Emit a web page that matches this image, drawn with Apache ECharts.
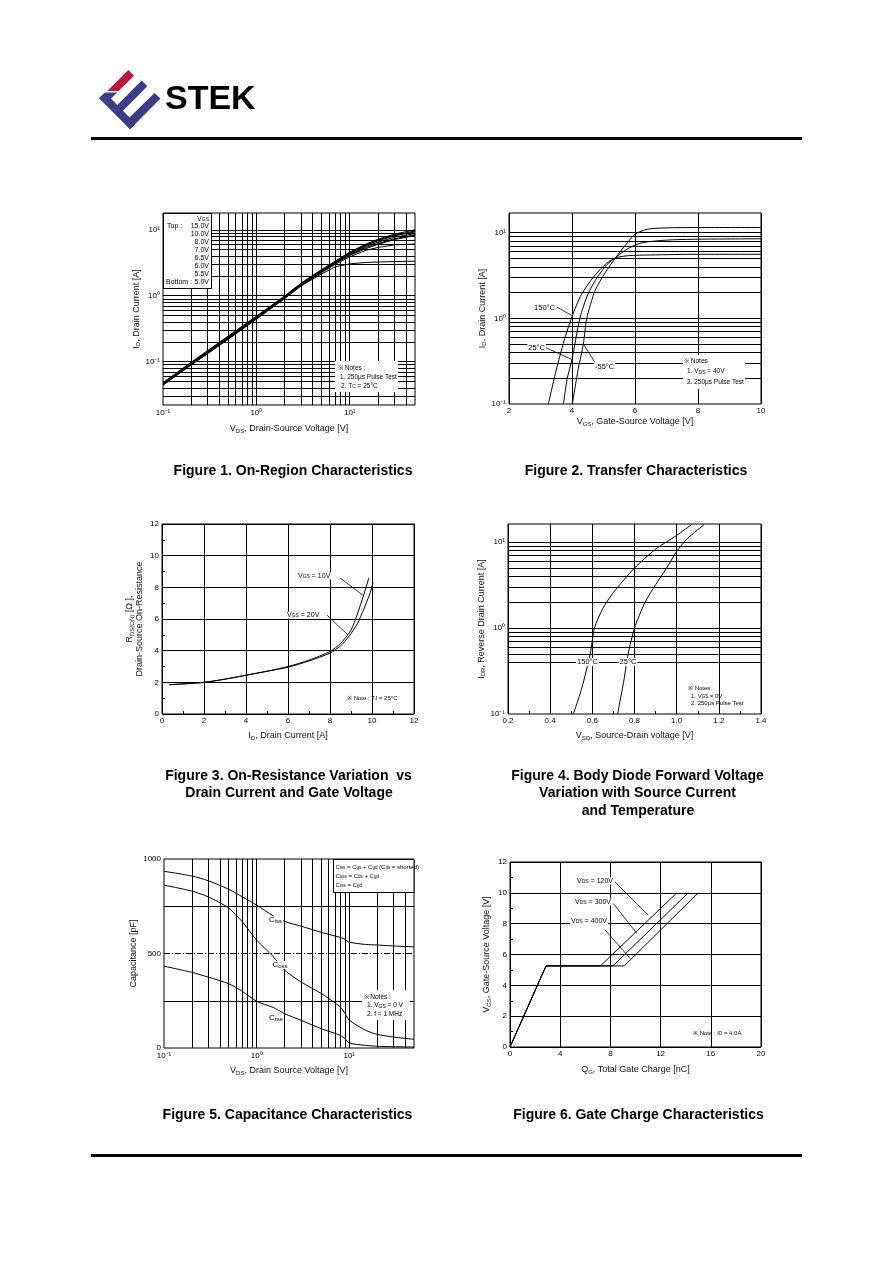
<!DOCTYPE html>
<html>
<head>
<meta charset="utf-8">
<script src="https://cdn.jsdelivr.net/npm/echarts@6/dist/echarts.min.js"></script>
<style>
  html, body { margin: 0; padding: 0; background: #fff; }
  #page { width: 892px; height: 1263px; }
</style>
</head>
<body>
<div id="page"></div>
<script>
// ---- Figure 1: on-region characteristics (log-log)
const fig1Vds = [0.1, 0.2, 0.3, 0.5, 1, 2, 3, 5, 7, 10, 15, 20, 30, 50]
const fig1Vgs = ['15.0V', '10.0V', '8.0V', '7.0V', '6.5V', '6.0V', '5.5V', '5.0V']
const fig1Id = [
  [0.048, 0.098, 0.147, 0.245, 0.49, 0.99, 1.55, 2.5, 3.35, 4.6, 6.1, 7.2, 8.6, 10.0],
  [0.047, 0.096, 0.144, 0.24, 0.48, 0.97, 1.52, 2.45, 3.3, 4.5, 5.9, 7.0, 8.3, 9.6],
  [0.046, 0.094, 0.141, 0.235, 0.47, 0.95, 1.5, 2.4, 3.25, 4.4, 5.8, 6.8, 8.1, 9.3],
  [0.046, 0.093, 0.139, 0.232, 0.465, 0.94, 1.48, 2.37, 3.2, 4.3, 5.6, 6.5, 7.7, 8.8],
  [0.045, 0.092, 0.137, 0.228, 0.46, 0.93, 1.46, 2.33, 3.15, 4.2, 5.4, 6.2, 7.3, 8.4],
  [0.045, 0.091, 0.135, 0.225, 0.455, 0.92, 1.44, 2.3, 3.1, 4.1, 5.2, 6.0, 7.1, 8.2],
  [0.044, 0.09, 0.134, 0.222, 0.45, 0.91, 1.42, 2.25, 3.0, 3.9, 4.9, 5.4, 5.9, 6.1],
  [0.044, 0.089, 0.132, 0.218, 0.44, 0.9, 1.4, 2.15, 2.75, 3.05, 3.2, 3.25, 3.3, 3.35]
]

// ---- Figure 2: transfer characteristics, [Vgs, Id]
const fig2T150 = [[3.25, 0.1], [3.5, 0.25], [3.75, 0.55], [4.0, 1.05], [4.3, 1.9], [4.7, 3.1], [5.1, 4.4], [5.4, 5.1], [5.8, 5.4], [6.5, 5.5], [8, 5.6], [10, 5.6]]
const fig2T25 = [[3.73, 0.1], [3.85, 0.2], [4.0, 0.33], [4.25, 1.0], [4.5, 1.9], [4.8, 3.0], [5.1, 4.2], [5.4, 5.2], [5.8, 6.6], [6.2, 7.6], [7, 8.2], [8, 8.4], [10, 8.5]]
const fig2Tm55 = [[4.01, 0.1], [4.2, 0.26], [4.36, 0.5], [4.47, 1.0], [4.73, 2.1], [5.05, 3.4], [5.4, 5.2], [5.7, 7.2], [6.0, 9.6], [6.4, 11.0], [7, 11.4], [8, 11.5], [10, 11.5]]
const fig2Arrows = [[[3.51, 1.36], [4.0, 1.08]], [[3.14, 0.46], [4.0, 0.33]], [[4.73, 0.305], [4.36, 0.5]]]

// ---- Figure 3: on-resistance vs drain current
const fig3Id10 = [0.35, 1, 2, 3, 4, 5, 6, 7, 8, 8.5, 9, 9.3, 9.6, 9.85]
const fig3R10 = [1.85, 1.9, 2.0, 2.2, 2.45, 2.7, 3.0, 3.4, 3.95, 4.45, 5.3, 6.3, 7.5, 8.6]
const fig3Id20 = [0.35, 1, 2, 3, 4, 5, 6, 7, 8, 8.5, 8.9, 9.3, 9.6, 9.9, 10.05]
const fig3R20 = [1.85, 1.9, 2.0, 2.2, 2.45, 2.7, 2.95, 3.35, 3.85, 4.3, 4.9, 5.7, 6.6, 7.6, 8.3]
const fig3Arrows = [[[8.47, 8.6], [9.57, 7.5]], [[7.85, 6.25], [8.85, 5.0]]]

// ---- Figure 4: body diode forward voltage
const fig4V150 = [0.51, 0.55, 0.59, 0.61, 0.65, 0.7, 0.8, 0.9, 1.0, 1.07]
const fig4I150 = [0.1, 0.2, 0.5, 1.0, 1.7, 2.6, 5.0, 8.3, 12, 16]
const fig4V25 = [0.72, 0.75, 0.77, 0.8, 0.85, 0.9, 0.95, 1.0, 1.05, 1.13]
const fig4I25 = [0.1, 0.25, 0.5, 1.0, 2.0, 3.2, 4.9, 7.8, 11, 16]

// ---- Figure 5: capacitance
const fig5Vds = [0.1, 0.2, 0.3, 0.5, 0.7, 1, 1.5, 2, 3, 5, 8, 9, 10, 15, 20, 30, 50]
const fig5Ciss = [935, 910, 885, 840, 800, 756, 700, 670, 645, 612, 585, 575, 560, 548, 545, 540, 535]
const fig5Coss = [862, 830, 800, 740, 668, 571, 485, 412, 350, 288, 217, 182, 147, 94, 72, 58, 46]
const fig5Crss = [433, 400, 375, 340, 300, 247, 215, 182, 147, 102, 67, 49, 26, 14, 9, 7, 5]

// ---- Figure 6: gate charge
const fig6Vgs = [0, 5.26, 5.26, 10]
const fig6Qg120 = [0, 2.87, 7.2, 13.3]
const fig6Qg300 = [0, 2.87, 8.2, 14.2]
const fig6Qg400 = [0, 2.87, 9.1, 15.0]
const fig6Arrows = [[[8.37, 10.7], [11.0, 8.55]], [[8.23, 9.31], [10.1, 7.37]], [[7.57, 7.6], [9.56, 5.75]]]

const FONT = "'Liberation Sans', Arial, Helvetica, sans-serif"
const SUP = { '-': '\u207b', '0': '\u2070', '1': '\u00b9', '2': '\u00b2', '3': '\u00b3' }

function powLabel(v) {
  const e = Math.log10(v)
  const r = Math.round(e)
  if (Math.abs(e - r) > 1e-6) return ''
  return '10' + String(r).split('').map((c) => SUP[c]).join('')
}

// decade + 2..9 positions inside (lo, hi)
function logGrid(lo, hi) {
  const out = []
  for (let e = -3; e <= 3; e++) {
    for (let d = 1; d <= 9; d++) {
      const v = +(d * Math.pow(10, e)).toPrecision(3)
      if (v > lo * 1.001 && v < hi * 0.999) out.push(v)
    }
  }
  return out
}

function zip(xs, ys) {
  return xs.map((x, i) => [x, ys[i]])
}

function curve(i, data, smooth) {
  return {
    type: 'line',
    xAxisIndex: i,
    yAxisIndex: i,
    data: data,
    symbol: 'none',
    showSymbol: false,
    smooth: smooth === undefined ? 0.25 : smooth,
    silent: true,
    z: 3,
    lineStyle: { color: '#000', width: 1 }
  }
}

function gridLines(i, xs, ys, type) {
  return {
    type: 'line',
    xAxisIndex: i,
    yAxisIndex: i,
    data: [],
    silent: true,
    z: 1,
    markLine: {
      silent: true,
      animation: false,
      symbol: ['none', 'none'],
      label: { show: false },
      emphasis: { disabled: true },
      lineStyle: { color: '#000', width: 1, type: type || 'solid' },
      data: xs.map((v) => ({ xAxis: v })).concat(ys.map((v) => ({ yAxis: v })))
    }
  }
}

function arrows(i, list) {
  return {
    type: 'line',
    xAxisIndex: i,
    yAxisIndex: i,
    data: [],
    silent: true,
    z: 4,
    markLine: {
      silent: true,
      animation: false,
      symbol: ['none', 'arrow'],
      symbolSize: [0, 6],
      label: { show: false },
      emphasis: { disabled: true },
      lineStyle: { color: '#000', width: 0.8, type: 'solid' },
      data: list.map((a) => [{ coord: a[0] }, { coord: a[1] }])
    }
  }
}

const nameStyle = {
  fontSize: 9,
  fontFamily: FONT,
  color: '#111',
  lineHeight: 10,
  rich: { s: { fontSize: 6, fontFamily: FONT, color: '#111', verticalAlign: 'bottom' } }
}

function axis(i, opt) {
  const label = { fontSize: 8, fontFamily: FONT, color: '#000', margin: 3 }
  const out = Object.assign({
    gridIndex: i,
    nameLocation: 'middle',
    nameTextStyle: nameStyle,
    axisLine: { show: false },
    axisTick: { show: false },
    splitLine: { show: false }
  }, opt)
  out.axisLabel = Object.assign(label, opt.axisLabel || {})
  return out
}

const solidSplit = { show: true, lineStyle: { color: '#000', width: 1 } }
const minorT = { show: true, splitNumber: 2, length: 3, lineStyle: { color: '#000', width: 1 } }
const insideT = { show: true, inside: true, length: 3, lineStyle: { color: '#000' } }

function T(x, y, text, o) {
  o = o || {}
  const size = o.size || 6.5
  const style = {
    text: text,
    fill: '#000',
    fontSize: size,
    fontFamily: FONT,
    fontWeight: o.weight || 'normal',
    textAlign: o.align || 'left',
    textVerticalAlign: 'middle',
    rich: { s: { fontSize: Math.max(4.5, Math.round(size * 0.7)), fontFamily: FONT, fill: '#000', verticalAlign: 'bottom' } }
  }
  if (o.bg) {
    style.backgroundColor = '#fff'
    style.padding = [0, 1]
  }
  return { type: 'text', x: x, y: y, z: 60, silent: true, style: style }
}

function R(x, y, w, h, stroke) {
  return {
    type: 'rect', z: 55, silent: true,
    shape: { x: x, y: y, width: w, height: h },
    style: { fill: '#fff', stroke: stroke ? '#000' : null, lineWidth: 1 }
  }
}

const BLUE = '#3b3d86'
const RED = '#c0143c'
const capt = { align: 'center', size: 14, weight: 'bold' }

const graphics = [
  // logo
  { type: 'polygon', shape: { points: [[107.3, 91], [118.7, 91], [134, 75.7], [128.3, 70]] }, style: { fill: RED } },
  { type: 'polygon', shape: { points: [[99, 98.3], [105.8, 92.5], [117.2, 92.5], [105.7, 104]] }, style: { fill: BLUE } },
  { type: 'polygon', shape: { points: [[99, 98.3], [130, 129.3], [135.5, 123.5], [105, 92.5]] }, style: { fill: BLUE } },
  { type: 'polygon', shape: { points: [[112, 110.3], [117.7, 116], [147.4, 86.3], [141.7, 80.6]] }, style: { fill: BLUE } },
  { type: 'polygon', shape: { points: [[124.3, 122.6], [130, 129.3], [160.5, 98.6], [154.5, 92.9]] }, style: { fill: BLUE } },
  T(165, 100, 'STEK', { size: 34, weight: 'bold' }),
  { type: 'rect', shape: { x: 91, y: 137, width: 711, height: 3 }, style: { fill: '#000' } },
  { type: 'rect', shape: { x: 91, y: 1154, width: 711, height: 3 }, style: { fill: '#000' } },

  // figure 1 legend + notes
  R(163.5, 213.5, 48, 75, true),
  T(209, 219, 'V{s|GS}', { align: 'right', size: 7 }),
  T(167, 226, 'Top :', { size: 7 }),
  T(166, 282, 'Bottom :', { size: 7 })
].concat(fig1Vgs.map((v, i) => T(209, 226 + i * 8, v, { align: 'right', size: 7 }))).concat([
  R(335, 361, 63, 31),
  T(338, 368, '\u203b Notes :'),
  T(340, 377, '1. 250\u03bcs Pulse Test'),
  T(341, 386, '2. T{s|C} = 25\u00b0C'),

  // figure 2
  R(683, 355, 62, 34),
  T(684, 361, '\u203b Notes'),
  T(687, 371.5, '1. V{s|DS} = 40V'),
  T(687, 382, '2. 250\u03bcs Pulse Test'),
  T(556, 308, '150\u00b0C', { align: 'right', size: 7.5, bg: true }),
  T(546, 348, '25\u00b0C', { align: 'right', size: 7.5, bg: true }),
  T(594, 367, '-55\u00b0C', { size: 7.5, bg: true }),

  // figure 3
  T(297, 576, 'V{s|GS} = 10V', { size: 7, bg: true }),
  T(286, 615, 'V{s|GS} = 20V', { size: 7, bg: true }),
  T(347, 698, '\u203b Note : T{s|J} = 25\u00b0C', { size: 6 }),

  // figure 4
  T(587.5, 662, '150\u00b0C', { align: 'center', size: 7.5, bg: true }),
  T(628, 662, '25\u00b0C', { align: 'center', size: 7.5, bg: true }),
  T(688, 688, '\u203b Notes:', { size: 6 }),
  T(691, 696, '1. V{s|GS} = 0V', { size: 6 }),
  T(691, 703.5, '2. 250\u03bcs Pulse Test', { size: 6 }),

  // figure 5
  R(333.5, 859.5, 80.5, 33, true),
  T(335.5, 867, 'C{s|iss} = C{s|gs} + C{s|gd} (C{s|ds} = shorted)', { size: 6 }),
  T(335.5, 876.5, 'C{s|oss} = C{s|ds} + C{s|gd}', { size: 6 }),
  T(335.5, 885.5, 'C{s|rss} = C{s|gd}', { size: 6 }),
  T(268, 920, 'C{s|iss}', { size: 8, bg: true }),
  T(271.5, 965, 'C{s|oss}', { size: 8, bg: true }),
  T(268, 1018, 'C{s|rss}', { size: 8, bg: true }),
  R(362, 990, 48, 30),
  T(363.5, 997, '\u203b Notes :'),
  T(367, 1005.5, '1. V{s|GS} = 0 V'),
  T(367, 1014, '2. f = 1 MHz'),

  // figure 6
  T(614, 881, 'V{s|DS} = 120V', { align: 'right', size: 7, bg: true }),
  T(612, 902, 'V{s|DS} = 300V', { align: 'right', size: 7, bg: true }),
  T(608, 921, 'V{s|DS} = 400V', { align: 'right', size: 7, bg: true }),
  T(693, 1033, '\u203b Note : I{s|D} = 4.0A', { size: 6 }),

  // captions
  T(293, 471, 'Figure 1. On-Region Characteristics', capt),
  T(636, 471, 'Figure 2. Transfer Characteristics', capt),
  T(288.5, 776, 'Figure 3. On-Resistance Variation  vs', capt),
  T(289, 793.5, 'Drain Current and Gate Voltage', capt),
  T(637.5, 776, 'Figure 4. Body Diode Forward Voltage', capt),
  T(637.5, 793.5, 'Variation with Source Current', capt),
  T(638, 811, 'and Temperature', capt),
  T(287.5, 1115, 'Figure 5. Capacitance Characteristics', capt),
  T(638.5, 1115, 'Figure 6. Gate Charge Characteristics', capt)
])

const gridBox = { show: true, borderColor: '#000', borderWidth: 1, backgroundColor: 'transparent' }

const chart = echarts.init(document.getElementById('page'))
chart.setOption({
  animation: false,
  backgroundColor: '#fff',
  grid: [
    Object.assign({ left: 163, top: 213, width: 252, height: 192 }, gridBox),
    Object.assign({ left: 509, top: 213, width: 252, height: 191 }, gridBox),
    Object.assign({ left: 162, top: 524, width: 252, height: 190 }, gridBox),
    Object.assign({ left: 508, top: 524, width: 253, height: 190 }, gridBox),
    Object.assign({ left: 164, top: 859, width: 250, height: 189 }, gridBox),
    Object.assign({ left: 510, top: 862, width: 251, height: 185 }, gridBox)
  ],
  xAxis: [
    axis(0, { type: 'log', min: 0.1, max: 50, name: 'V{s|DS}, Drain-Source Voltage [V]', nameGap: 19, axisLabel: { formatter: powLabel, margin: 4 } }),
    axis(1, { type: 'value', min: 2, max: 10, interval: 2, name: 'V{s|GS}, Gate-Source Voltage [V]', nameGap: 13, splitLine: solidSplit }),
    axis(2, { type: 'value', min: 0, max: 12, interval: 2, name: 'I{s|D}, Drain Current [A]', nameGap: 17, splitLine: solidSplit, axisTick: insideT, minorTick: minorT }),
    axis(3, { type: 'value', min: 0.2, max: 1.4, interval: 0.2, name: 'V{s|SD}, Source-Drain voltage [V]', nameGap: 17, splitLine: solidSplit, axisTick: insideT, minorTick: minorT, axisLabel: { formatter: (v) => v.toFixed(1) } }),
    axis(4, { type: 'log', min: 0.1, max: 50, name: 'V{s|DS}, Drain Source Voltage [V]', nameGap: 18, axisLabel: { formatter: powLabel, margin: 4 } }),
    axis(5, { type: 'value', min: 0, max: 20, interval: 4, name: 'Q{s|G}, Total Gate Charge [nC]', nameGap: 18, splitLine: solidSplit })
  ],
  yAxis: [
    axis(0, { type: 'log', min: 0.022, max: 18, name: 'I{s|D}, Drain Current [A]', nameGap: 16, axisLabel: { formatter: powLabel } }),
    axis(1, { type: 'log', min: 0.1, max: 17, name: 'I{s|D}, Drain Current [A]', nameGap: 15, axisLabel: { formatter: powLabel } }),
    axis(2, { type: 'value', min: 0, max: 12, interval: 2, name: 'R{s|DS(ON)} [\u03a9 ],\nDrain-Source On-Resistance', nameGap: 17, splitLine: solidSplit, axisTick: insideT, minorTick: minorT }),
    axis(3, { type: 'log', min: 0.1, max: 16.3, name: 'I{s|DR}, Reverse Drain Current [A]', nameGap: 18, axisLabel: { formatter: powLabel } }),
    axis(4, { type: 'value', min: 0, max: 1000, interval: 500, name: 'Capacitance [pF]', nameGap: 25, axisLabel: { formatter: (v) => String(v) } }),
    axis(5, { type: 'value', min: 0, max: 12, interval: 2, name: 'V{s|GS}, Gate-Source Voltage [V]', nameGap: 18, splitLine: solidSplit, axisTick: insideT, minorTick: minorT })
  ],
  series: [
    gridLines(0, logGrid(0.1, 50), logGrid(0.022, 18)),
    gridLines(1, [], logGrid(0.1, 17)),
    gridLines(3, [], logGrid(0.35, 16.3)),
    gridLines(4, logGrid(0.1, 50), [250, 750]),
    gridLines(4, [], [500], [6, 2, 1, 2])
  ]
    .concat(fig1Id.map((ids) => curve(0, zip(fig1Vds, ids), false)))
    .concat([
      curve(1, fig2T150), curve(1, fig2T25), curve(1, fig2Tm55), arrows(1, fig2Arrows),
      curve(2, zip(fig3Id10, fig3R10)), curve(2, zip(fig3Id20, fig3R20)), arrows(2, fig3Arrows),
      curve(3, zip(fig4V150, fig4I150)), curve(3, zip(fig4V25, fig4I25)),
      curve(4, zip(fig5Vds, fig5Ciss)), curve(4, zip(fig5Vds, fig5Coss)), curve(4, zip(fig5Vds, fig5Crss)),
      curve(5, zip(fig6Qg120, fig6Vgs), false), curve(5, zip(fig6Qg300, fig6Vgs), false), curve(5, zip(fig6Qg400, fig6Vgs), false),
      arrows(5, fig6Arrows)
    ]),
  graphic: graphics
})
</script>
</body>
</html>
